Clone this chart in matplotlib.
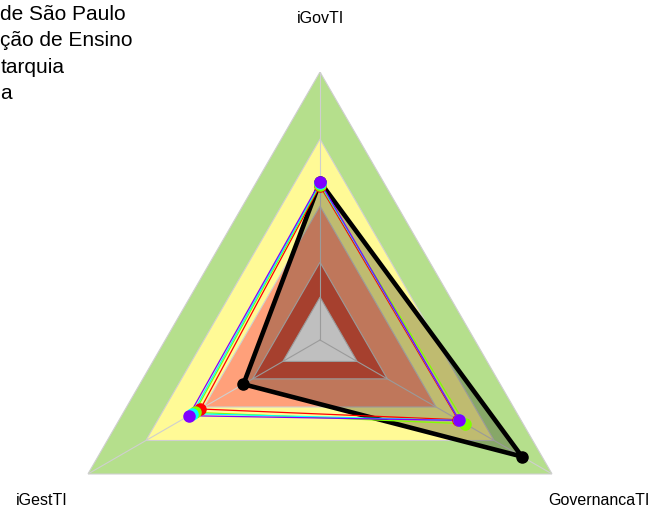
import numpy as np
import matplotlib
matplotlib.use("Agg")
from matplotlib import pyplot as plt
from matplotlib.lines import Line2D

plt.rcParams['font.family'] = ['Liberation Sans', 'DejaVu Sans']

# axes of the radar (top, bottom-left, bottom-right)
categories = ["iGovTI", "iGestTI", "GovernancaTI"]
angles_deg = [90, 210, 330]

# background bands (outer -> inner)
band_levels = [1.0, 0.75, 0.5, 0.29, 0.16]
band_colors = ["#B5DF8C", "#FFFA96", "#FFA07A", "#DE563E", "#FFFFFF"]

# organisation being assessed (black, shaded)
main_values = [0.59, 0.33, 0.87]

# comparison series (rainbow(4))
series_labels = ["de São Paulo", "ção de Ensino", "tarquia", "a"]
series_colors = ["#FF0000", "#80FF00", "#00FFFF", "#8000FF"]
series_values = [
    [0.575, 0.515, 0.595],
    [0.58, 0.54, 0.625],
    [0.585, 0.55, 0.60],
    [0.59, 0.565, 0.60],
]

theta = np.deg2rad(angles_deg)
theta_c = np.append(theta, theta[0])


def closed(v):
    return np.append(v, v[0])


fig = plt.figure(figsize=(6.5, 5.11), dpi=100)
ax = fig.add_axes([52 / 650, (511 - 340 - 268) / 511, 536 / 650, 536 / 511],
                  projection="polar")
ax.set_ylim(0, 1)
ax.axis("off")

for lvl, col in zip(band_levels, band_colors):
    ax.fill(theta_c, [lvl] * 4, facecolor=col, edgecolor="#CFCFCF",
            linewidth=0.8, zorder=1)
for t in theta:
    ax.plot([t, t], [0, 1], color="#CFCFCF", linewidth=0.8, zorder=1.5)

# shaded polygon of the main series
ax.fill(theta_c, closed(main_values), facecolor="black", alpha=0.25,
        edgecolor="none", zorder=2)
ax.plot(theta_c, closed(main_values), color="black", linewidth=3.3, zorder=3)
ax.plot(theta, main_values, "o", color="black", markersize=8, zorder=3)

handles = []
for vals, col, lab in zip(series_values, series_colors, series_labels):
    ax.plot(theta_c, closed(vals), color=col, linewidth=0.9, zorder=4)
    ax.plot(theta, vals, "o", color=col, markersize=8, zorder=5)
    handles.append(Line2D([], [], color=col, marker="o", linewidth=0.9))

for t, name in zip(theta, categories):
    ax.text(t, 1.2, name, ha="center", va="center", fontsize=11.5,
            clip_on=False)

fig.legend(handles, series_labels, loc="upper left",
           bbox_to_anchor=(-54 / 650, 1 - 5 / 511), frameon=False,
           fontsize=15, handlelength=2.0, handletextpad=0.6, borderpad=0,
           borderaxespad=0, labelspacing=0.35)

fig.savefig("out.png", dpi=100)
